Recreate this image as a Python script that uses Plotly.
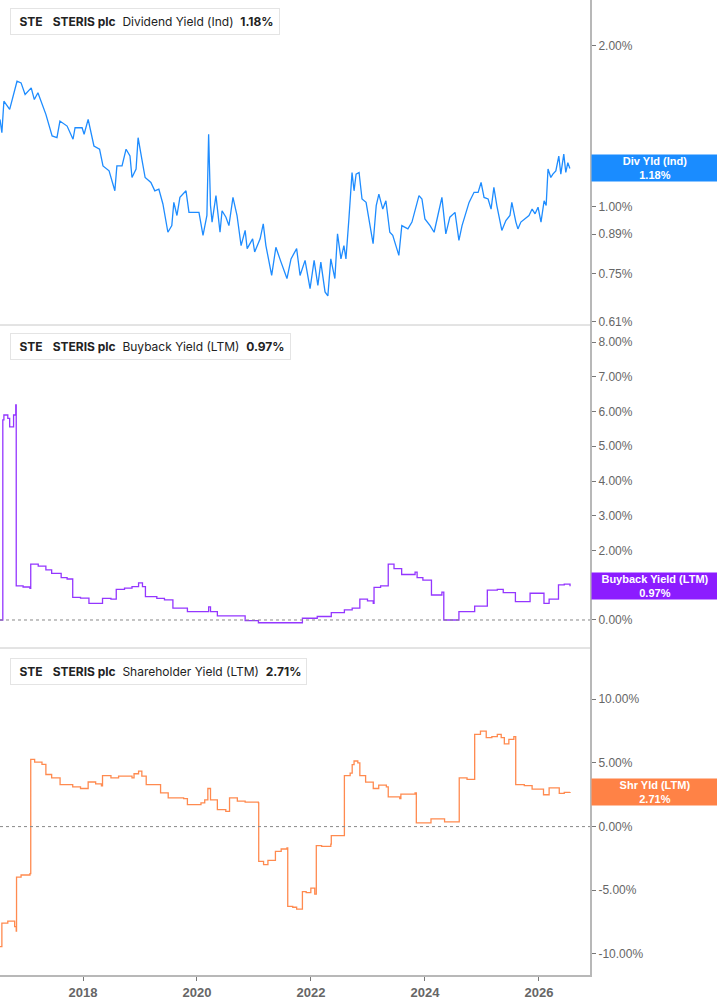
import math
import plotly.graph_objects as go

# ---------------- data ----------------
div_dates = ["2016-07-18","2016-07-30","2016-08-12","2016-09-18","2016-11-04","2016-11-30","2016-12-26",
"2017-02-03","2017-02-23","2017-03-18","2017-05-08","2017-06-17","2017-07-18","2017-08-06","2017-09-21",
"2017-10-29","2017-11-11","2017-12-26","2018-01-08","2018-02-03","2018-03-12","2018-04-17","2018-05-09",
"2018-06-17","2018-07-24","2018-08-06","2018-09-08","2018-10-04","2018-10-29","2018-11-11","2018-12-07",
"2018-12-20","2019-01-13","2019-02-03","2019-03-12","2019-04-06","2019-05-02","2019-05-28","2019-06-29",
"2019-07-24","2019-08-06","2019-08-26","2019-09-14","2019-10-23","2019-11-11","2019-12-20","2020-01-14",
"2020-02-09","2020-03-05","2020-03-16","2020-03-28","2020-04-07","2020-05-02","2020-05-28","2020-06-10",
"2020-07-05","2020-07-24","2020-08-19","2020-09-14","2020-10-10","2020-11-05","2020-11-18","2020-12-23",
"2021-01-05","2021-02-09","2021-03-01","2021-03-18","2021-04-24","2021-05-21","2021-06-23","2021-07-31",
"2021-08-26","2021-10-01","2021-10-23","2021-11-24","2021-12-26","2022-01-21","2022-02-14","2022-03-05",
"2022-04-01","2022-04-19","2022-05-08","2022-06-03","2022-06-20","2022-07-12","2022-07-31","2022-08-13",
"2022-09-01","2022-09-21","2022-10-04","2022-10-17","2022-11-05","2022-11-24","2022-12-20","2023-01-14",
"2023-02-03","2023-02-23","2023-03-12","2023-04-06","2023-04-26","2023-05-21","2023-06-09","2023-06-29",
"2023-07-18","2023-08-06","2023-09-14","2023-10-10","2023-10-29","2023-11-24","2023-12-13","2024-01-01",
"2024-02-03","2024-02-29","2024-03-24","2024-04-19","2024-05-14","2024-06-09","2024-07-12","2024-08-06",
"2024-08-26","2024-09-21","2024-10-10","2024-11-11","2024-12-07","2024-12-26","2025-01-14","2025-02-09",
"2025-02-28","2025-03-18","2025-04-06","2025-05-08","2025-06-03","2025-06-29","2025-07-11","2025-08-06",
"2025-08-19","2025-09-07","2025-10-03","2025-10-29","2025-11-18","2025-12-07","2025-12-26","2026-01-14",
"2026-02-03","2026-02-16","2026-02-28","2026-03-18","2026-03-31","2026-04-19","2026-05-08","2026-05-21",
"2026-06-09","2026-06-22","2026-07-05","2026-07-18"]
div_values = [1.457,1.376,1.576,1.521,1.717,1.705,1.622,
1.669,1.587,1.634,1.489,1.357,1.347,1.447,1.416,
1.338,1.406,1.406,1.367,1.457,1.300,1.282,1.193,
1.168,1.072,1.193,1.193,1.282,1.245,1.135,1.177,
1.347,1.228,1.135,1.111,1.072,1.080,1.013,0.897,
0.923,1.020,0.964,1.042,1.072,0.977,0.977,0.977,
0.885,0.964,1.367,1.006,0.937,1.050,0.897,0.984,
0.957,0.923,1.042,0.964,0.847,0.904,0.836,0.872,
0.824,0.872,0.930,0.847,0.745,0.841,0.789,0.735,
0.800,0.836,0.745,0.795,0.704,0.795,0.714,0.789,
0.694,0.682,0.800,0.735,0.891,0.800,0.847,0.800,
0.950,1.160,1.072,1.152,1.160,1.035,1.020,0.923,
0.854,1.006,1.057,0.991,1.027,0.897,0.885,0.847,
0.812,0.923,0.910,0.937,0.984,1.050,1.035,0.950,
0.923,0.897,0.964,1.042,0.891,0.957,0.977,0.866,
0.923,0.977,1.020,1.065,1.065,1.111,1.042,1.035,
0.991,1.088,1.006,0.904,0.943,0.964,1.020,0.937,
0.910,0.937,0.950,0.964,0.991,0.971,0.999,0.937,
1.027,1.006,1.177,1.135,1.152,1.168,1.245,1.152,
1.255,1.160,1.210,1.180]

bb_dates = ["2016-07-18","2016-08-05","2016-08-12","2016-09-06","2016-09-18","2016-10-13","2016-10-27",
"2016-10-30","2016-12-13","2017-01-26","2017-01-31","2017-03-20","2017-05-08","2017-06-14","2017-08-14",
"2017-09-21","2017-10-27","2017-12-16","2018-02-08","2018-05-06","2018-06-29","2018-08-02","2018-09-24",
"2018-11-11","2018-12-23","2019-01-17","2019-02-05","2019-04-19","2019-06-07","2019-07-31","2019-11-01",
"2020-03-16","2020-03-28","2020-05-11","2020-11-05","2021-01-29","2021-11-07","2022-02-10","2022-05-11",
"2022-08-03","2022-09-22","2022-11-10","2022-12-29","2023-02-04","2023-02-09","2023-03-23","2023-05-11",
"2023-06-17","2023-08-05","2023-10-30","2023-11-12","2023-12-19","2024-02-12","2024-04-19","2024-05-01",
"2024-08-06","2024-11-15","2025-02-04","2025-04-09","2025-05-17","2025-08-03","2025-11-05","2026-02-02",
"2026-03-07","2026-05-06","2026-06-12","2026-07-19"]
bb_values = [0.00,5.76,5.90,5.80,5.56,5.90,6.19,
0.98,0.95,0.91,1.61,1.55,1.44,1.34,1.22,
1.18,0.65,0.63,0.48,0.62,0.60,0.88,0.92,
0.96,1.07,0.96,0.67,0.62,0.58,0.34,0.24,
0.38,0.24,0.12,-0.02,-0.08,0.05,0.10,0.21,
0.29,0.34,0.60,0.55,0.48,0.94,0.98,1.61,
1.48,1.31,1.38,1.22,1.15,0.72,0.80,0.00,
0.24,0.40,0.86,0.88,0.79,0.53,0.77,0.48,
0.60,1.01,1.03,0.97]

shy_dates = ["2016-07-18","2016-07-30","2016-09-06","2016-10-20","2016-10-30","2016-11-01","2016-11-30",
"2017-01-26","2017-01-31","2017-02-25","2017-04-13","2017-05-08","2017-06-14","2017-08-07","2017-10-27",
"2017-12-16","2018-02-03","2018-03-23","2018-04-29","2018-05-06","2018-06-29","2018-08-17","2018-11-11",
"2018-11-24","2018-12-23","2019-01-13","2019-02-10","2019-04-19","2019-05-13","2019-07-01","2019-10-08",
"2019-11-01","2020-01-27","2020-02-20","2020-03-11","2020-03-28","2020-04-21","2020-05-11","2020-07-04",
"2020-07-28","2020-09-16","2020-11-05","2021-01-29","2021-01-31","2021-03-03","2021-03-31","2021-05-18",
"2021-06-24","2021-07-31","2021-08-05","2021-09-06","2021-10-01","2021-11-07","2021-12-01","2021-12-31",
"2022-01-25","2022-02-04","2022-03-10","2022-05-08","2022-05-11","2022-07-29","2022-08-03","2022-09-09",
"2022-09-22","2022-10-04","2022-10-28","2022-11-10","2022-12-17","2023-02-04","2023-03-11","2023-04-29",
"2023-05-11","2023-07-24","2023-07-31","2023-10-30","2023-11-07","2024-02-09","2024-05-06","2024-08-08",
"2024-09-27","2024-11-15","2024-12-22","2025-01-28","2025-03-05","2025-04-09","2025-05-04","2025-05-24",
"2025-06-22","2025-07-24","2025-08-05","2025-09-29","2025-11-18","2026-01-30","2026-03-07","2026-05-11",
"2026-06-12","2026-07-19"]
shy_values = [-9.43,-7.58,-7.42,-7.85,-8.20,-3.96,-3.80,
-3.69,5.28,5.06,4.88,4.09,3.83,3.30,3.12,
2.99,3.50,3.35,3.20,4.00,3.83,3.96,3.83,
4.15,4.36,3.96,3.30,3.30,2.65,2.26,2.20,
1.73,1.86,2.10,2.99,2.10,2.10,1.34,1.20,
2.26,2.00,1.92,1.86,-2.73,-2.99,-2.65,-1.94,
-1.76,-1.68,-6.27,-6.33,-6.48,-5.10,-5.18,-4.83,
-5.30,-1.50,-1.55,-1.37,-0.71,-0.71,4.00,4.20,
4.87,5.15,5.00,4.00,3.49,2.99,3.25,3.12,
2.34,2.20,2.55,2.65,0.29,0.60,0.37,3.83,
3.70,7.24,7.50,6.98,7.06,7.24,6.98,6.50,
6.85,7.06,3.30,3.22,2.94,2.50,3.04,2.60,
2.68,2.71]

div_ticks = [0.61, 0.75, 0.89, 1.00, 2.00]
bb_ticks = [0, 1, 2, 3, 4, 5, 6, 7, 8]
shy_ticks = [-10, -5, 0, 5, 10]
x_ticks = ["2018-01-01", "2020-01-01", "2022-01-01", "2024-01-01", "2026-01-01"]
x_tick_labels = ["2018", "2020", "2022", "2024", "2026"]

ticker = "STE"
company = "STERIS plc"
series_names = ["Dividend Yield (Ind)", "Buyback Yield (LTM)", "Shareholder Yield (LTM)"]
short_names = ["Div Yld (Ind)", "Buyback Yield (LTM)", "Shr Yld (LTM)"]
last_values = [1.18, 0.97, 2.71]

# ---------------- style ----------------
BLUE = "#1a8cff"
PURPLE = "#8c1cff"
ORANGE = "#ff8246"
LINE_BLUE = "#1e8cff"
LINE_PURPLE = "#9436ff"
LINE_ORANGE = "#ff8a4f"
W, H = 717, 1005
PLOT_W, PLOT_H = 590, 975

def px_x(px):
    return px / PLOT_W

def px_y(py):
    return 1 - py / PLOT_H

fig = go.Figure()
fig.add_trace(go.Scatter(x=div_dates, y=div_values, mode="lines", yaxis="y",
                         line=dict(color=LINE_BLUE, width=1.3), showlegend=False))
fig.add_trace(go.Scatter(x=bb_dates, y=bb_values, mode="lines", yaxis="y2",
                         line=dict(color=LINE_PURPLE, width=1.3, shape="hv"), showlegend=False))
fig.add_trace(go.Scatter(x=shy_dates, y=shy_values, mode="lines", yaxis="y3",
                         line=dict(color=LINE_ORANGE, width=1.3, shape="hv"), showlegend=False))

tickfont = dict(family="Liberation Sans, Arial, sans-serif", size=12, color="#666666")
common_y = dict(side="right", showgrid=False, zeroline=False, ticks="outside", ticklen=4,
                tickcolor="#777777", tickwidth=1, showline=True, linecolor="#b8b8b8", linewidth=2,
                tickfont=tickfont, anchor="x", fixedrange=True)

d1 = [px_y(325), 1]
d2 = [px_y(648), px_y(325)]
d3 = [0, px_y(648)]

fig.update_layout(
    width=W, height=H,
    margin=dict(l=0, r=W - PLOT_W, t=0, b=H - PLOT_H),
    paper_bgcolor="white", plot_bgcolor="white",
    xaxis=dict(type="date", range=["2016-07-18", "2026-11-24"], anchor="y3",
               tickvals=x_ticks, ticktext=[f"<b>{t}</b>" for t in x_tick_labels],
               ticks="outside", ticklen=4,
               tickcolor="#777777", showgrid=False, zeroline=False, showline=True,
               linecolor="#b8b8b8", linewidth=2,
               tickfont=dict(family="Liberation Sans, Arial, sans-serif", size=13, color="#666666")),
    yaxis=dict(domain=d1, type="log",
               range=[math.log10(0.602), math.log10(2.435)],
               tickvals=div_ticks, ticktext=[f"{v:.2f}%" for v in div_ticks], **common_y),
    yaxis2=dict(domain=d2, range=[-0.806, 8.49],
                tickvals=bb_ticks, ticktext=[f"{v:.2f}%" for v in bb_ticks], **common_y),
    yaxis3=dict(domain=d3, range=[-11.65, 14.02],
                tickvals=shy_ticks, ticktext=[f"{v:.2f}%" for v in shy_ticks], **common_y),
)

shapes = []
# panel separators
for py in (325, 648):
    shapes.append(dict(type="line", xref="paper", yref="paper", x0=0, x1=1,
                       y0=px_y(py), y1=px_y(py), line=dict(color="#c8c8c8", width=1)))
# dotted zero lines
for ref in ("y2", "y3"):
    shapes.append(dict(type="line", xref="paper", yref=ref, x0=0, x1=1, y0=0, y1=0,
                       line=dict(color="#888888", width=1, dash="dot")))

annotations = []
legend_boxes = [(8, 34, BLUE), (333, 358, PURPLE), (658, 683, ORANGE)]
legend_font = dict(family="Inter, Noto Sans, sans-serif", size=12, color="#222222")
nb = "\u00a0"
for i, (top, bot, col) in enumerate(legend_boxes):
    txt = (f"{nb}<b>{ticker}</b>{nb}{nb}{nb}<b>{company}</b>{nb}{nb}"
           f"{series_names[i]}{nb}{nb}<b>{last_values[i]:.2f}%</b>")
    annotations.append(dict(xref="paper", yref="paper", x=px_x(10), y=px_y(top),
                            xanchor="left", yanchor="top", text=txt, showarrow=False,
                            font=legend_font, bgcolor="white", bordercolor="#e4e4e4",
                            borderwidth=1, borderpad=5, align="left"))
    shapes.append(dict(type="rect", xref="paper", yref="paper", x0=px_x(10), x1=px_x(14),
                       y0=px_y(bot), y1=px_y(top), fillcolor=col, line=dict(width=0)))

# right-side value labels
label_font = dict(family="Liberation Sans, Arial, sans-serif", size=11, color="white")
label_specs = [("y", math.log10(last_values[0]), BLUE),
               ("y2", last_values[1], PURPLE),
               ("y3", last_values[2], ORANGE)]
for i, (ref, yv, col) in enumerate(label_specs):
    annotations.append(dict(xref="paper", yref=ref, x=1, y=yv, xanchor="left", yanchor="middle",
                            xshift=1, text=f"<b>{short_names[i]}</b><br><b>{last_values[i]:.2f}%</b>",
                            showarrow=False, font=label_font, bgcolor=col, width=122, height=22,
                            borderpad=2, align="center"))

fig.update_layout(shapes=shapes, annotations=annotations)
fig.write_html("out.html")
